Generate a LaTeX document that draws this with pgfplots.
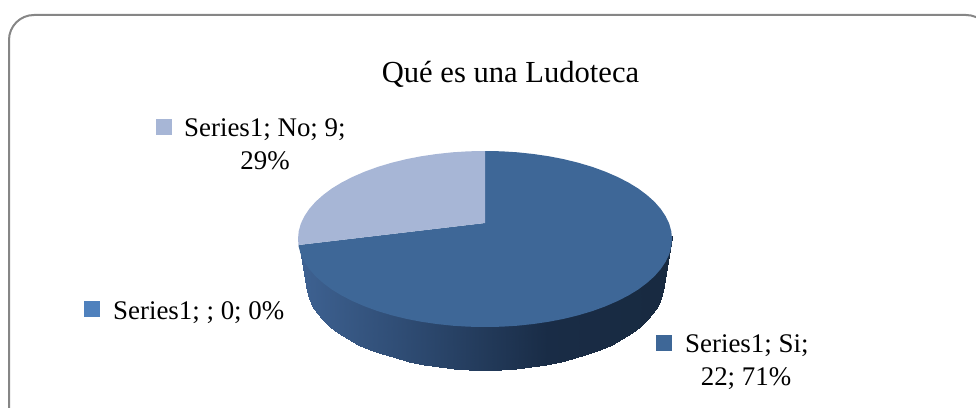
\documentclass[border=0pt]{standalone}
\usepackage{pgfplots}
\pgfplotsset{compat=1.18}
\usepackage{fontspec}
\setmainfont{Liberation Serif}
\definecolor{pieSi}{RGB}{62,103,151}
\definecolor{pieNo}{RGB}{167,182,214}
\definecolor{pieCero}{RGB}{79,129,189}
\definecolor{frame}{RGB}{134,134,134}
\newcommand{\lab}{\fontsize{27}{33}\selectfont}
\begin{document}
\begin{tikzpicture}
\begin{axis}[
    scale only axis,
    width=976bp, height=408bp,
    xmin=0, xmax=976, ymin=0, ymax=408,
    y dir=reverse,
    hide axis,
    clip=false,
    colormap={pieside}{rgb255=(62,98,146) rgb255=(44,72,110) rgb255=(25,44,70) rgb255=(24,42,64)},
]
\path[use as bounding box] (axis cs:0,0) rectangle (axis cs:976,408);
% chart frame, cut off by the page on the right and at the bottom
\draw[frame, line width=2bp, rounded corners=25bp]
    (axis cs:9,409) -- (axis cs:9,15) -- (axis cs:991,15) -- (axis cs:991,100);

% rim of the pie: upper edge / lower edge pairs, upper edge runs under the top face
\addplot[surf, shader=interp, mesh/cols=2, point meta=x] table {
298.5 242
306 283
298.7 243.7
306.7 290.6
300.8 251.3
308.7 298.1
304.4 258.8
312.1 305.5
309.3 266.1
316.8 312.8
315.5 273.2
322.8 319.8
323.1 280
330 326.5
331.8 286.5
338.4 332.9
341.8 292.6
347.9 338.9
352.8 298.2
358.4 344.5
364.8 303.4
369.9 349.6
377.7 308.1
382.3 354.3
391.5 312.2
395.5 358.3
406 315.8
409.4 361.9
421 318.7
423.8 364.8
436.6 321
438.7 367
452.5 322.7
453.9 368.7
468.7 323.7
469.4 369.7
485 324
485 370
501.3 323.7
500.6 369.7
517.5 322.7
516.1 368.7
533.4 321
531.3 367
549 318.7
546.2 364.8
564 315.8
560.6 361.9
578.5 312.2
574.5 358.3
592.3 308.1
587.7 354.3
605.2 303.4
600.1 349.6
617.2 298.2
611.6 344.5
628.2 292.6
622.1 338.9
638.2 286.5
631.6 332.9
646.9 280
640 326.5
654.5 273.2
647.2 319.8
660.7 266.1
653.2 312.8
665.6 258.8
657.9 305.5
669.2 251.3
661.3 298.1
671.3 243.7
663.3 290.6
672 236
664 283
};

% Si: 22, 71%
\addplot[fill=pieSi, draw=none] coordinates {
(485,151) (501.3,151.3) (517.5,152.3) (533.4,154) (549,156.3) (564,159.2)
(578.5,162.8) (592.3,166.9) (605.2,171.6) (617.2,176.8) (628.2,182.4)
(638.2,188.5) (646.9,195) (654.5,201.8) (660.7,208.9) (665.6,216.2)
(669.2,223.7) (671.3,231.3) (672,239) (671.3,246.7) (669.2,254.3)
(665.6,261.8) (660.7,269.1) (654.5,276.2) (646.9,283) (638.2,289.5)
(628.2,295.6) (617.2,301.2) (605.2,306.4) (592.3,311.1) (578.5,315.2)
(564,318.8) (549,321.7) (533.4,324) (517.5,325.7) (501.3,326.7) (485,327)
(468.7,326.7) (452.5,325.7) (436.6,324) (421,321.7) (406,318.8)
(391.5,315.2) (377.7,311.1) (364.8,306.4) (352.8,301.2) (341.8,295.6)
(331.8,289.5) (323.1,283) (315.5,276.2) (309.3,269.1) (304.4,261.8)
(300.8,254.3) (298.7,246.7) (298.5,245) (485,223)
};
% No: 9, 29%
\addplot[fill=pieNo, draw=none] coordinates {
(485,223) (298.5,245) (298,239) (298.7,231.3) (300.8,223.7) (304.4,216.2)
(309.3,208.9) (315.5,201.8) (323.1,195) (331.8,188.5) (341.8,182.4)
(352.8,176.8) (364.8,171.6) (377.7,166.9) (391.5,162.8) (406,159.2)
(421,156.3) (436.6,154) (452.5,152.3) (468.7,151.3) (485,151)
};

% legend squares
\addplot[only marks, pieNo, mark=square*, mark size=7.5bp, mark options={line width=0pt}] coordinates {(163.5,126.5)};
\addplot[only marks, pieCero, mark=square*, mark size=7.5bp, mark options={line width=0pt}] coordinates {(91.5,308.5)};
\addplot[only marks, pieSi, mark=square*, mark size=7.5bp, mark options={line width=0pt}] coordinates {(663.5,342.5)};

\node[anchor=base, inner sep=0pt, font=\fontsize{30.7}{36}\selectfont] at (axis cs:510.5,82) {Qué es una Ludoteca};
\node[anchor=base west, inner sep=0pt, font=\lab] at (axis cs:184,136) {Series1; No; 9;};
\node[anchor=base, inner sep=0pt, font=\lab] at (axis cs:265,169) {29\%};
\node[anchor=base west, inner sep=0pt, font=\lab] at (axis cs:113,319) {Series1; ; 0; 0\%};
\node[anchor=base west, inner sep=0pt, font=\lab] at (axis cs:685,352) {Series1; Si;};
\node[anchor=base, inner sep=0pt, font=\lab] at (axis cs:746,385) {22; 71\%};
\end{axis}
\end{tikzpicture}
\end{document}
